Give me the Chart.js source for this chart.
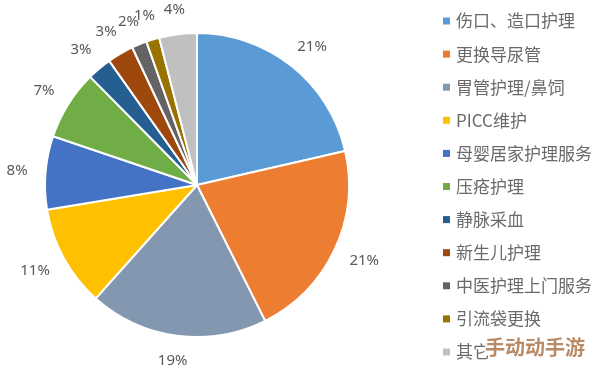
<!DOCTYPE html>
<html>
<head>
<meta charset="utf-8">
<script src="https://cdn.jsdelivr.net/npm/chart.js@4"></script>
<style>
  html, body { margin: 0; padding: 0; background: #fff; }
  #wrap { width: 594px; height: 365px; position: relative; }
</style>
</head>
<body>
<div id="wrap"><canvas id="chart"></canvas></div>
<script>
// 分类
const categories = ["伤口、造口护理", "更换导尿管", "胃管护理/鼻饲", "PICC维护", "母婴居家护理服务",
  "压疮护理", "静脉采血", "新生儿护理", "中医护理上门服务", "引流袋更换", "其它"];
// 占比（%）
const shares = [21.4, 21.2, 19.0, 10.8, 7.8, 7.4, 2.6, 2.8, 1.6, 1.4, 4.0];
const colors = ["#5B9BD5", "#ED7D31", "#8497B0", "#FFC000", "#4472C4", "#70AD47",
  "#255E91", "#9E480E", "#636363", "#997300", "#C0C0C0"];

// 饼图外侧的百分比标签
const outsideLabels = {
  id: "outsideLabels",
  afterDatasetsDraw(chart) {
    const ctx = chart.ctx;
    const meta = chart.getDatasetMeta(0);
    ctx.save();
    ctx.font = "15px 'Noto Sans', 'Open Sans', sans-serif";
    ctx.fillStyle = "#595959";
    ctx.textAlign = "center";
    ctx.textBaseline = "middle";
    meta.data.forEach((arc, i) => {
      const mid = (arc.startAngle + arc.endAngle) / 2;
      const dx = Math.cos(mid), dy = Math.sin(mid);
      const txt = Math.round(shares[i]) + "%";
      const w = ctx.measureText(txt).width, h = 14;
      const d = arc.outerRadius + 18;
      const x = arc.x + dx * d + dx * w / 2;
      const y = arc.y + dy * d + dy * h / 2;
      ctx.fillText(txt, x, y);
    });
    ctx.restore();
  }
};

// 右侧图例
const sideLegend = {
  id: "sideLegend",
  afterDraw(chart) {
    const ctx = chart.ctx;
    ctx.save();
    ctx.font = "17px 'Noto Sans CJK SC', sans-serif";
    ctx.textBaseline = "middle";
    ctx.textAlign = "left";
    categories.forEach((name, i) => {
      const y = 21 + i * 33.1;
      ctx.fillStyle = colors[i];
      ctx.fillRect(443, y - 3.5, 7, 7);
      ctx.fillStyle = "#6a6a6a";
      ctx.fillText(name, 456, y);
    });
    // 水印
    ctx.font = "bold 20px 'Noto Sans CJK SC', sans-serif";
    ctx.lineWidth = 3;
    ctx.strokeStyle = "rgba(255,255,255,0.9)";
    ctx.strokeText("手动动手游", 485, 347);
    ctx.fillStyle = "#B98A66";
    ctx.fillText("手动动手游", 485, 347);
    ctx.restore();
  }
};

new Chart(document.getElementById("chart"), {
  type: "pie",
  data: {
    labels: categories,
    datasets: [{
      data: shares,
      backgroundColor: colors,
      borderColor: "#ffffff",
      borderWidth: 2
    }]
  },
  options: {
    responsive: true,
    maintainAspectRatio: false,
    animation: false,
    radius: 152,
    layout: { padding: { left: 0, right: 200, top: 5, bottom: 0 } },
    plugins: {
      legend: { display: false },
      tooltip: { enabled: false }
    }
  },
  plugins: [outsideLabels, sideLegend]
});
</script>
</body>
</html>
